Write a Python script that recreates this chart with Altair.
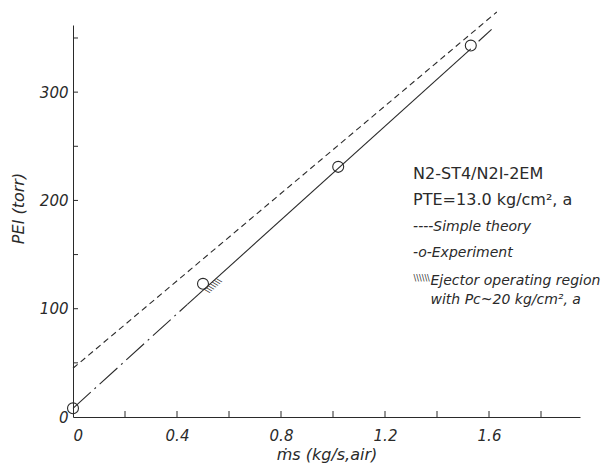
import altair as alt
import pandas as pd

# Experiment points
exp_x = [0.0, 0.5, 1.02, 1.53]
exp_y = [8, 123, 231, 343]

# Simple theory (dashed)
theory_x = [0.0, 1.63]
theory_y = [45, 374]

# Experiment fit line: dash-dot part, solid part, tail
fit_dd_x = [0.0, 0.44]
fit_dd_y = [8, 104]
fit_solid_x = [0.44, 1.53]
fit_solid_y = [104, 340]
fit_tail_x = [1.56, 1.61]
fit_tail_y = [347, 358]

# Axis ticks / labels
x_label_vals = [0, 0.4, 0.8, 1.2, 1.6]
x_tick_vals = [0.2, 0.4, 0.6, 0.8, 1.0, 1.2, 1.4, 1.6, 1.8]
y_label_vals = [0, 100, 200, 300]
y_tick_vals = [50, 100, 150, 200, 250, 300, 350]

# Annotation text
note_upright = ["N2-ST4/N2I-2EM", "PTE=13.0 kg/cm², a"]
note_upright_x = [1.308, 1.308]
note_upright_y = [224, 200]
note_italic = ["----Simple theory", "-o-Experiment", "Ejector operating region", "with Pc~20 kg/cm², a"]
note_italic_x = [1.308, 1.308, 1.375, 1.375]
note_italic_y = [175, 151, 126, 108]
hatch_text = ["\\\\\\\\\\\\"]
hatch_x = [1.31]
hatch_y = [127]
region_hatch = ["\\\\\\\\\\\\\\"]
region_x = [0.54]
region_y = [121]

INK = "#2a2a2a"
FONT = "DejaVu Sans"

xs = alt.Scale(domain=[0, 1.95], nice=False)
ys = alt.Scale(domain=[0, 362], nice=False)

x_axis = alt.Axis(values=x_label_vals, format="~g", ticks=False, grid=False,
                  domainColor=INK, labelColor=INK, labelFont=FONT, labelFontSize=15,
                  labelFontStyle="italic", labelPadding=11,
                  title="ṁs (kg/s,air)", titleFont=FONT, titleFontSize=16,
                  titleFontWeight="normal", titleFontStyle="italic", titleColor=INK,
                  titleBaseline="middle", titleY=37)
y_axis = alt.Axis(values=y_label_vals, ticks=False, grid=False,
                  domainColor=INK, labelColor=INK, labelFont=FONT, labelFontSize=15,
                  labelFontStyle="italic", labelPadding=5,
                  title="PEI (torr)", titleFont=FONT, titleFontSize=16,
                  titleFontWeight="normal", titleFontStyle="italic", titleColor=INK,
                  titleBaseline="middle", titleX=-55, titleY=183)

exp_df = pd.DataFrame({"x": exp_x, "y": exp_y})
theory_df = pd.DataFrame({"x": theory_x, "y": theory_y})
dd_df = pd.DataFrame({"x": fit_dd_x, "y": fit_dd_y})
solid_df = pd.DataFrame({"x": fit_solid_x, "y": fit_solid_y})
tail_df = pd.DataFrame({"x": fit_tail_x, "y": fit_tail_y})

base_axes = alt.Chart(exp_df).mark_point(opacity=0).encode(
    x=alt.X("x:Q", scale=xs, axis=x_axis),
    y=alt.Y("y:Q", scale=ys, axis=y_axis),
)

theory = alt.Chart(theory_df).mark_line(color=INK, strokeWidth=1.1, strokeDash=[6, 4], clip=False).encode(
    x=alt.X("x:Q", scale=xs), y=alt.Y("y:Q", scale=ys))
dd = alt.Chart(dd_df).mark_line(color=INK, strokeWidth=1.1, strokeDash=[24, 5, 2, 5]).encode(
    x=alt.X("x:Q", scale=xs), y=alt.Y("y:Q", scale=ys))
solid = alt.Chart(solid_df).mark_line(color=INK, strokeWidth=1.1).encode(
    x=alt.X("x:Q", scale=xs), y=alt.Y("y:Q", scale=ys))
tail = alt.Chart(tail_df).mark_line(color=INK, strokeWidth=1.1, clip=False).encode(
    x=alt.X("x:Q", scale=xs), y=alt.Y("y:Q", scale=ys))

points = alt.Chart(exp_df).mark_point(shape="circle", filled=False, color=INK, size=120,
                                      strokeWidth=1.1, opacity=1).encode(
    x=alt.X("x:Q", scale=xs), y=alt.Y("y:Q", scale=ys))

xticks = alt.Chart(pd.DataFrame({"x": x_tick_vals})).mark_rule(color=INK, strokeWidth=1).encode(
    x=alt.X("x:Q", scale=xs), y=alt.value(392), y2=alt.value(386))
yticks = alt.Chart(pd.DataFrame({"y": y_tick_vals})).mark_rule(color=INK, strokeWidth=1).encode(
    y=alt.Y("y:Q", scale=ys), x=alt.value(0), x2=alt.value(5))

t_up = alt.Chart(pd.DataFrame({"x": note_upright_x, "y": note_upright_y, "t": note_upright})).mark_text(
    align="left", baseline="middle", font=FONT, fontSize=16, color=INK).encode(
    x=alt.X("x:Q", scale=xs), y=alt.Y("y:Q", scale=ys), text="t:N")
t_it = alt.Chart(pd.DataFrame({"x": note_italic_x, "y": note_italic_y, "t": note_italic})).mark_text(
    align="left", baseline="middle", font=FONT, fontSize=14, fontStyle="italic", color=INK).encode(
    x=alt.X("x:Q", scale=xs), y=alt.Y("y:Q", scale=ys), text="t:N")
t_hatch = alt.Chart(pd.DataFrame({"x": hatch_x, "y": hatch_y, "t": hatch_text})).mark_text(
    align="left", baseline="middle", font=FONT, fontSize=8, color=INK).encode(
    x=alt.X("x:Q", scale=xs), y=alt.Y("y:Q", scale=ys), text="t:N")
t_region = alt.Chart(pd.DataFrame({"x": region_x, "y": region_y, "t": region_hatch})).mark_text(
    align="center", baseline="middle", font=FONT, fontSize=8, angle=318, color=INK).encode(
    x=alt.X("x:Q", scale=xs), y=alt.Y("y:Q", scale=ys), text="t:N")

chart = alt.layer(base_axes, theory, dd, solid, tail, points, xticks, yticks,
                  t_up, t_it, t_hatch, t_region).properties(
    width=507, height=392,
    autosize=alt.AutoSizeParams(type="none"),
    padding={"left": 73, "top": 25, "right": 35, "bottom": 49},
    background="white",
).configure_view(stroke=None)

chart.save("out.html", embed_options={"renderer": "svg", "actions": False})
